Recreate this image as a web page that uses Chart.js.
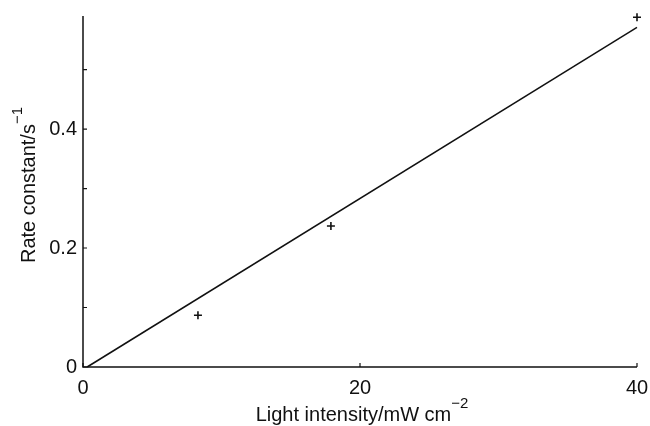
<!DOCTYPE html>
<html>
<head>
<meta charset="utf-8">
<script src="https://cdn.jsdelivr.net/npm/chart.js@4"></script>
<style>
  html, body { margin: 0; padding: 0; background: #fff; }
  #wrap { width: 650px; height: 426px; }
</style>
</head>
<body>
<div id="wrap"><canvas id="c" width="650" height="426"></canvas></div>
<script>
// ---- data ----
const lightIntensity = [8.3, 17.9, 40];          // mW cm^-2
const rateConstant   = [0.087, 0.237, 0.588];    // s^-1
const fitLineX = [0.3, 40];
const fitLineY = [0, 0.571];
const xTickValues = [0, 20, 40];
const yLabelledTicks = [0, 0.2, 0.4];
const xTitleMain = 'Light intensity/mW cm';
const xTitleSup = '\u22122';
const yTitleMain = 'Rate constant/s';
const yTitleSup = '\u22121';

const FONT = '"Liberation Sans", Arial, Helvetica, sans-serif';

const measured = lightIntensity.map((x, i) => ({ x: x, y: rateConstant[i] }));
const fitted = fitLineX.map((x, i) => ({ x: x, y: fitLineY[i] }));

const axesPlugin = {
  id: 'axesPlugin',
  afterDraw(chart) {
    const ctx = chart.ctx;
    const xs = chart.scales.x, ys = chart.scales.y;
    const a = chart.chartArea;
    ctx.save();
    ctx.strokeStyle = '#111';
    ctx.lineWidth = 1.5;
    // axis lines
    ctx.beginPath();
    ctx.moveTo(a.left, a.top);
    ctx.lineTo(a.left, a.bottom);
    ctx.lineTo(a.right, a.bottom);
    ctx.stroke();
    // inward ticks
    ctx.lineWidth = 1.2;
    ctx.beginPath();
    ys.ticks.forEach(t => {
      const py = ys.getPixelForValue(t.value);
      ctx.moveTo(a.left, py); ctx.lineTo(a.left + 4, py);
    });
    xs.ticks.forEach(t => {
      const px = xs.getPixelForValue(t.value);
      ctx.moveTo(px, a.bottom); ctx.lineTo(px, a.bottom - 4);
    });
    ctx.stroke();

    // axis titles with superscripts
    ctx.fillStyle = '#111';
    ctx.textBaseline = 'alphabetic';
    // x title
    ctx.font = '20px ' + FONT;
    const wMain = ctx.measureText(xTitleMain).width;
    ctx.font = '15px ' + FONT;
    const wSup = ctx.measureText(xTitleSup).width;
    const cx = 362;
    let x0 = cx - (wMain + wSup) / 2;
    ctx.font = '20px ' + FONT;
    ctx.textAlign = 'left';
    ctx.fillText(xTitleMain, x0, 421);
    ctx.font = '15px ' + FONT;
    ctx.fillText(xTitleSup, x0 + wMain, 408);

    // y title (rotated)
    ctx.save();
    ctx.translate(35, 185);
    ctx.rotate(-Math.PI / 2);
    ctx.font = '20px ' + FONT;
    const yMain = ctx.measureText(yTitleMain).width;
    ctx.font = '15px ' + FONT;
    const ySup = ctx.measureText(yTitleSup).width;
    let y0 = -(yMain + ySup) / 2;
    ctx.font = '20px ' + FONT;
    ctx.fillText(yTitleMain, y0, 0);
    ctx.font = '15px ' + FONT;
    ctx.fillText(yTitleSup, y0 + yMain, -13);
    ctx.restore();
    ctx.restore();
  }
};

new Chart(document.getElementById('c'), {
  type: 'scatter',
  data: {
    datasets: [
      {
        label: 'measured',
        data: measured,
        pointStyle: 'cross',
        pointRadius: 4,
        borderColor: '#111',
        backgroundColor: '#111',
        borderWidth: 1.6,
        showLine: false,
        clip: false
      },
      {
        label: 'fit',
        data: fitted,
        showLine: true,
        pointRadius: 0,
        borderColor: '#111',
        borderWidth: 1.5,
        fill: false,
        clip: false
      }
    ]
  },
  options: {
    responsive: false,
    animation: false,
    layout: { padding: { top: 16, right: 13, left: 0, bottom: 0 } },
    plugins: { legend: { display: false }, tooltip: { enabled: false } },
    scales: {
      x: {
        type: 'linear',
        min: 0, max: 40,
        afterBuildTicks: s => { s.ticks = xTickValues.map(v => ({ value: v })); },
        afterFit: s => { s.height = 59; s.paddingRight = 0; s.paddingLeft = 0; },
        grid: { display: false, drawTicks: false },
        border: { display: false },
        ticks: {
          color: '#111',
          padding: 9,
          font: { size: 20, family: FONT },
          maxRotation: 0,
          callback: v => String(v)
        }
      },
      y: {
        type: 'linear',
        min: 0, max: 0.59,
        afterFit: s => { s.width = 83; s.paddingTop = 0; s.paddingBottom = 0; },
        grid: { display: false, drawTicks: false },
        border: { display: false },
        ticks: {
          stepSize: 0.1,
          includeBounds: false,
          color: '#111',
          padding: 6,
          font: { size: 20, family: FONT },
          callback: v => {
            const hit = yLabelledTicks.find(t => Math.abs(t - v) < 1e-6);
            return hit === undefined ? '' : (hit === 0 ? '0' : hit.toFixed(1));
          }
        }
      }
    }
  },
  plugins: [axesPlugin]
});
</script>
</body>
</html>
